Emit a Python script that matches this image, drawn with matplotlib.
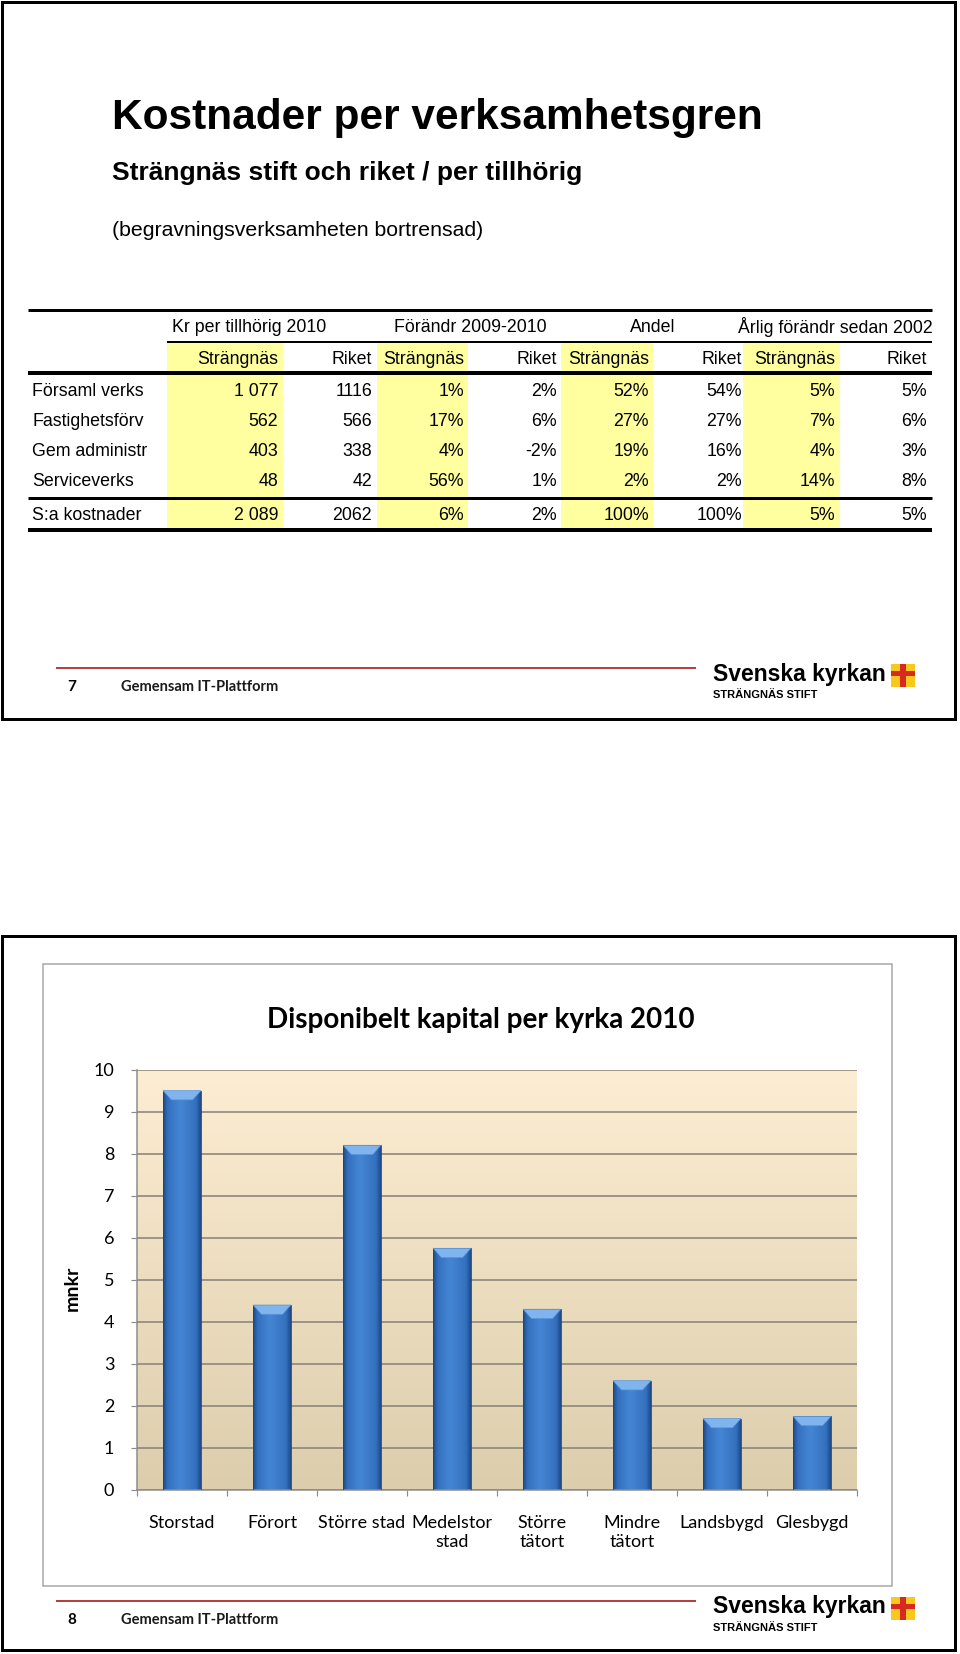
import numpy as np
import matplotlib
matplotlib.use('Agg')
import matplotlib.pyplot as plt
from matplotlib.colors import LinearSegmentedColormap
from matplotlib.patches import Rectangle, Polygon

W, H = 960, 1654

# --- slide 7: table data ---
rad_namn = ['Församl verks', 'Fastighetsförv', 'Gem administr', 'Serviceverks', 'S:a kostnader']
grupp_rubriker = ['Kr per tillhörig 2010', 'Förändr 2009-2010', 'Andel', 'Årlig förändr sedan 2002']
kolumn_rubriker = ['Strängnäs', 'Riket'] * 4
kr_strangnas = [1077, 562, 403, 48, 2089]
kr_riket = [1116, 566, 338, 42, 2062]
forandr_strangnas = [1, 17, 4, 56, 6]
forandr_riket = [2, 6, -2, 1, 2]
andel_strangnas = [52, 27, 19, 2, 100]
andel_riket = [54, 27, 16, 2, 100]
arlig_strangnas = [5, 7, 4, 14, 5]
arlig_riket = [5, 6, 3, 8, 5]

# --- slide 8: bar chart data ---
kategorier = ['Storstad', 'Förort', 'Större stad', 'Medelstor\nstad', 'Större\ntätort',
              'Mindre\ntätort', 'Landsbygd', 'Glesbygd']
kapital_mnkr = [9.5, 4.4, 8.2, 5.75, 4.3, 2.6, 1.7, 1.75]
y_ticks = list(range(0, 11))

ARIAL = 'Liberation Sans'
CAL = 'Lato'


def pt(pixels):
    return pixels * 72 / 100


fig = plt.figure(figsize=(W / 100, H / 100), dpi=100)
page = fig.add_axes([0, 0, 1, 1])
page.set_xlim(0, W)
page.set_ylim(H, 0)
page.axis('off')

# slide frames
page.add_patch(Rectangle((2, 2), 953, 717, fill=False, ec='black', lw=pt(3)))
page.add_patch(Rectangle((2, 936), 953, 714, fill=False, ec='black', lw=pt(3)))

# titles
page.text(112, 118, 'Kostnader per verksamhetsgren', fontsize=30.5, weight='bold',
          family=ARIAL, va='center')
page.text(112, 173, 'Strängnäs stift och riket / per tillhörig', fontsize=19,
          weight='bold', family=ARIAL, va='center')
page.text(112, 230, '(begravningsverksamheten bortrensad)', fontsize=15.3,
          family=ARIAL, va='center')

# table
fmt_kr = lambda v: f'{v:,}'.replace(',', ' ')
kolumner = [
    [fmt_kr(v) for v in kr_strangnas],
    [str(v) for v in kr_riket],
    [f'{v}%' for v in forandr_strangnas],
    [f'{v}%' for v in forandr_riket],
    [f'{v}%' for v in andel_strangnas],
    [f'{v}%' for v in andel_riket],
    [f'{v}%' for v in arlig_strangnas],
    [f'{v}%' for v in arlig_riket],
]
rad_y = [391, 421, 451, 481, 515]
kol_hoger = [278, 372, 464, 557, 649, 742, 835, 927]
gula = [(167, 283), (377, 468), (561, 653), (743, 840)]

for x0, x1 in gula:
    page.add_patch(Rectangle((x0, 343), x1 - x0, 186, fc='#FFFF9F', ec='none'))

tfs = 12.8
page.text(172, 327, grupp_rubriker[0], fontsize=tfs, family=ARIAL, va='center', ha='left')
page.text(470, 327, grupp_rubriker[1], fontsize=tfs, family=ARIAL, va='center', ha='center')
page.text(675, 327, grupp_rubriker[2], fontsize=tfs, family=ARIAL, va='center', ha='right')
page.text(933, 327, grupp_rubriker[3], fontsize=tfs, family=ARIAL, va='center', ha='right')
for x, lab in zip(kol_hoger, kolumn_rubriker):
    page.text(x, 359, lab, fontsize=tfs, family=ARIAL, va='center', ha='right')
for y, namn in zip(rad_y, rad_namn):
    page.text(32, y, namn, fontsize=tfs, family=ARIAL, va='center', ha='left')
for x, kol in zip(kol_hoger, kolumner):
    for y, cell in zip(rad_y, kol):
        page.text(x, y, cell, fontsize=tfs, family=ARIAL, va='center', ha='right')

page.hlines(310, 28, 932, color='black', lw=pt(3))
page.hlines(342, 167, 932, color='black', lw=pt(2))
page.hlines(373, 28, 932, color='black', lw=pt(4))
page.hlines(498, 28, 932, color='black', lw=pt(3))
page.hlines(530, 28, 932, color='black', lw=pt(4))

# footers
for dy, nr in [(0, '7'), (933, '8')]:
    page.hlines(668 + dy, 56, 696, color='#B5413F', lw=pt(2))
    page.text(67, 687 + dy, nr, fontsize=11, weight='bold', family=CAL, va='center')
    page.text(121, 687 + dy, 'Gemensam IT-Plattform', fontsize=10.5, weight='bold',
              family=CAL, va='center', color='#1a1a1a')
    page.text(713, 674 + dy, 'Svenska kyrkan', fontsize=16.5, weight='bold', family=ARIAL,
              va='center')
    page.text(713, 695 + dy, 'STRÄNGNÄS STIFT', fontsize=8, weight='bold', family=ARIAL,
              va='center')
    page.add_patch(Rectangle((891, 664 + dy), 24, 23, fc='#F8C81C', ec='none'))
    page.add_patch(Rectangle((900, 664 + dy), 6, 23, fc='#D42A20', ec='none'))
    page.add_patch(Rectangle((891, 671 + dy), 24, 5, fc='#D42A20', ec='none'))

# chart box and titles
page.add_patch(Rectangle((43, 964), 849, 622, fill=False, ec='#A6A6A6', lw=pt(1.5)))
page.text(481, 1020, 'Disponibelt kapital per kyrka 2010', fontsize=20, weight='bold',
          family=CAL, ha='center', va='center')
page.text(72, 1288, 'mnkr', fontsize=14, weight='bold', family=CAL, rotation=90,
          ha='center', va='center')

# bar chart axes
ax = fig.add_axes([137 / W, 1 - 1490 / H, 720 / W, 420.4 / H])
ax.patch.set_alpha(0)
x = np.arange(len(kategorier))

bg_cmap = LinearSegmentedColormap.from_list('bg', ['#FDEED3', '#DCCDAD'])
ax.imshow(np.linspace(0, 1, 256).reshape(-1, 1), cmap=bg_cmap, aspect='auto',
          extent=(-0.5, len(kategorier) - 0.5, 0, 10), zorder=0)

bar_cmap = LinearSegmentedColormap.from_list(
    'bar', [(0, '#1D4A88'), (0.12, '#3470BE'), (0.45, '#4586D4'), (0.88, '#3470BE'), (1, '#1D4A88')])
grad = np.linspace(0, 1, 64).reshape(1, -1)
bars = ax.bar(x, kapital_mnkr, width=0.42, fc='none', ec='#1C467F', lw=0.6, zorder=3)
for rect in bars:
    x0, w, h = rect.get_x(), rect.get_width(), rect.get_height()
    im = ax.imshow(grad, cmap=bar_cmap, extent=(x0, x0 + w, 0, h), aspect='auto',
                   interpolation='bicubic', zorder=2)
    im.set_clip_path(rect)
    c, d = 0.22, w * 0.22
    ax.add_patch(Polygon([(x0, h), (x0 + w, h), (x0 + w - d, h - c), (x0 + d, h - c)],
                         closed=True, fc='#80B4EE', ec='#5C95D8', lw=0.5, zorder=4))

ax.set_xlim(-0.5, len(kategorier) - 0.5)
ax.set_ylim(0, 10)
ax.set_yticks(y_ticks)
ax.set_axisbelow(True)
ax.yaxis.grid(True, color='#8A847A', lw=pt(1.6))
ax.set_xticks(x)
ax.set_xticklabels(kategorier, fontsize=13, family=CAL, linespacing=1.25)
ax.set_xticks(np.arange(-0.5, len(kategorier)), minor=True)
ax.tick_params(axis='x', which='major', length=0, pad=18)
ax.tick_params(axis='x', which='minor', length=pt(6), color='#8C8C8C', width=pt(1.2))
ax.tick_params(axis='y', length=pt(6), color='#8C8C8C', width=pt(1.2), pad=12, labelsize=13)
for lab in ax.get_yticklabels():
    lab.set_family(CAL)
for s in ['top', 'right']:
    ax.spines[s].set_visible(False)
for s in ['left', 'bottom']:
    ax.spines[s].set_color('#8C8C8C')
    ax.spines[s].set_linewidth(pt(1.5))

fig.savefig('out.png', dpi=100)
